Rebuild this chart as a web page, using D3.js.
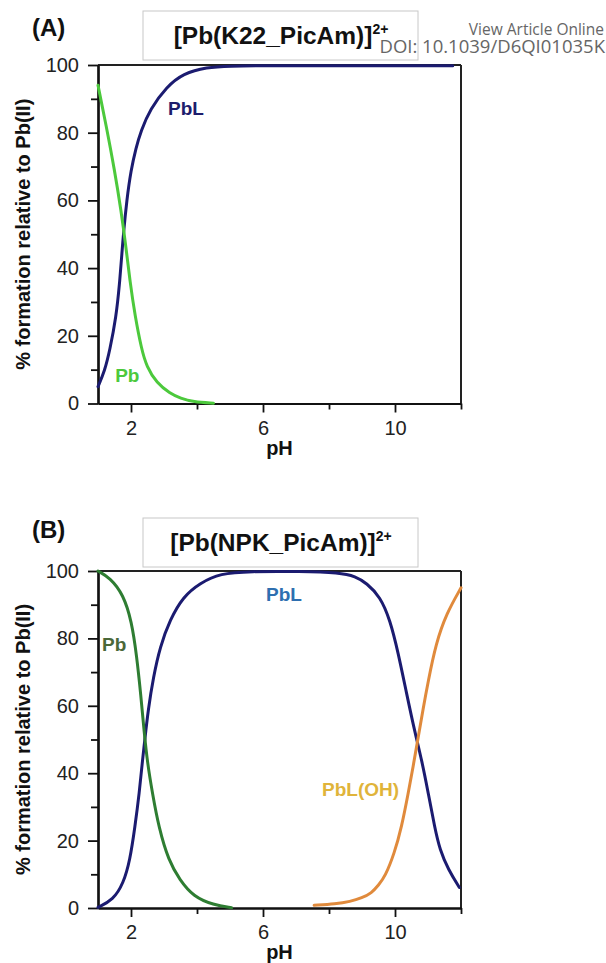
<!DOCTYPE html>
<html><head><meta charset="utf-8">
<script src="https://cdn.jsdelivr.net/npm/d3@7/dist/d3.min.js"></script>
<style>body{margin:0;background:#fff} svg{display:block}</style>
</head><body>
<svg id="c" width="606" height="963"></svg>
<script>
// ---------- data ----------
const xDomain = [1, 12];
const yDomain = [0, 100];
const xMajorTicks = [2, 6, 10];
const xMinorTicks = [4, 8, 12];
const yMajorTicks = [0, 20, 40, 60, 80, 100];
const yMinorTicks = [10, 30, 50, 70, 90];

// Panel A: [Pb(K22_PicAm)]2+
const aPbL_pH  = [1.0, 1.2, 1.36, 1.55, 1.65, 1.73, 1.77, 1.87, 2.0, 2.15, 2.3, 2.58, 3.08, 3.58, 4.29, 5.0, 6.0, 8.0, 10.0, 11.75];
const aPbL_val = [5.0, 9.5, 15.8, 25.6, 35.0, 45.0, 50.0, 60.0, 69.0, 75.5, 80.5, 87.0, 93.6, 97.5, 99.4, 99.7, 99.8, 99.8, 99.8, 99.8];
const aPb_pH   = [1.0, 1.25, 1.5, 1.7, 1.85, 1.97, 2.12, 2.32, 2.47, 2.78, 3.18, 3.5, 3.89, 4.5];
const aPb_val  = [94.0, 82.0, 69.0, 57.0, 46.0, 36.0, 26.0, 16.0, 11.0, 6.0, 3.0, 1.5, 0.5, 0.1];

// Panel B: [Pb(NPK_PicAm)]2+
const bPb_pH   = [1.0, 1.36, 1.77, 2.02, 2.17, 2.3, 2.4, 2.5, 2.65, 2.84, 3.14, 3.48, 3.89, 4.5, 5.05];
const bPb_val  = [100.0, 98.0, 93.0, 85.0, 75.0, 63.0, 52.0, 43.0, 34.0, 24.0, 14.0, 8.3, 3.4, 0.9, 0.1];
const bPbL_pH  = [1.0, 1.46, 1.77, 1.97, 2.12, 2.25, 2.35, 2.42, 2.52, 2.68, 2.88, 3.18, 3.58, 4.09, 4.7, 5.6, 7.12, 8.33, 8.8, 9.14, 9.55, 9.85, 10.1, 10.35, 10.61, 10.81, 11.01, 11.2, 11.36, 11.62, 11.95];
const bPbL_val = [0.2, 2.4, 7.3, 14.2, 24.1, 34.0, 44.0, 50.0, 58.8, 68.6, 77.5, 85.5, 92.4, 96.4, 99.3, 99.9, 99.9, 99.5, 98.4, 96.4, 92.4, 85.5, 75.6, 63.7, 51.8, 43.9, 34.0, 24.0, 17.2, 11.3, 6.1];
const bPbLOH_pH  = [7.55, 8.2, 8.64, 9.0, 9.29, 9.5, 9.7, 9.98, 10.2, 10.4, 10.55, 10.7, 10.85, 11.0, 11.24, 11.56, 12.0];
const bPbLOH_val = [0.8, 1.2, 1.9, 3.0, 4.4, 6.8, 9.3, 16.2, 24.0, 34.0, 42.0, 50.5, 59.0, 67.0, 78.5, 87.4, 95.0];

// ---------- drawing ----------
const svg = d3.select("#c");
const FONT = "'Liberation Sans', Arial, Helvetica, sans-serif";
const zip = (a, b) => a.map((v, i) => [v, b[i]]);

function panel(cfg) {
  const x = d3.scaleLinear().domain(xDomain).range([98, 461]);
  const y = d3.scaleLinear().domain(yDomain).range([cfg.bottom, cfg.top]);
  const g = svg.append("g");

  // panel letter
  g.append("text").attr("x", 32).attr("y", cfg.letterY)
    .attr("font-family", FONT).attr("font-weight", "bold").attr("font-size", 24)
    .attr("fill", "#111").text(cfg.letter);

  // title box
  g.append("rect").attr("x", 143).attr("y", cfg.boxY).attr("width", 275).attr("height", 49)
    .attr("fill", "#fff").attr("stroke", "#c8c8c8").attr("stroke-width", 1);
  const t = g.append("text").attr("x", 281).attr("y", cfg.boxY + 33)
    .attr("text-anchor", "middle").attr("font-family", FONT).attr("font-weight", "bold")
    .attr("font-size", 24.5).attr("fill", "#111");
  t.append("tspan").text(cfg.title);
  t.append("tspan").attr("dy", -10).attr("font-size", 14).text("2+");

  // frame (top and right)
  g.append("line").attr("x1", x(xDomain[0])).attr("x2", x(xDomain[1]))
    .attr("y1", y(100)).attr("y2", y(100)).attr("stroke", "#222").attr("stroke-width", 2);
  g.append("line").attr("x1", x(xDomain[1])).attr("x2", x(xDomain[1]))
    .attr("y1", y(0)).attr("y2", y(100)).attr("stroke", "#222").attr("stroke-width", 2);

  // y axis
  const yA = g.append("g").attr("transform", `translate(${x(xDomain[0])},0)`)
    .call(d3.axisLeft(y).tickValues(yMajorTicks).tickSize(10).tickSizeOuter(0).tickPadding(9));
  const yM = g.append("g").attr("transform", `translate(${x(xDomain[0])},0)`)
    .call(d3.axisLeft(y).tickValues(yMinorTicks).tickSize(7).tickSizeOuter(0).tickFormat(""));
  // x axis
  const xA = g.append("g").attr("transform", `translate(0,${y(0)})`)
    .call(d3.axisBottom(x).tickValues(xMajorTicks).tickSize(9).tickSizeOuter(0).tickPadding(8));
  const xM = g.append("g").attr("transform", `translate(0,${y(0)})`)
    .call(d3.axisBottom(x).tickValues(xMinorTicks).tickSize(6).tickSizeOuter(0).tickFormat(""));
  [yA, yM, xA, xM].forEach(a => {
    a.select(".domain").attr("stroke", "#111").attr("stroke-width", 2.2);
    a.selectAll(".tick line").attr("stroke", "#111").attr("stroke-width", 1.8);
    a.selectAll(".tick text").attr("font-family", FONT).attr("font-size", 20).attr("fill", "#222");
  });

  // axis titles
  g.append("text").attr("transform", `translate(30,${(y(0) + y(100)) / 2}) rotate(-90)`)
    .attr("text-anchor", "middle").attr("font-family", FONT).attr("font-weight", "bold")
    .attr("font-size", 20).attr("fill", "#111").text("% formation relative to Pb(II)");
  g.append("text").attr("x", (x(xDomain[0]) + x(xDomain[1])) / 2).attr("y", y(0) + 51)
    .attr("text-anchor", "middle").attr("font-family", FONT).attr("font-weight", "bold")
    .attr("font-size", 20).attr("fill", "#111").text("pH");

  // series labels (under curves)
  cfg.labels.forEach(l => {
    g.append("text").attr("x", x(l.px)).attr("y", y(l.py))
      .attr("font-family", FONT).attr("font-weight", "bold").attr("font-size", 19)
      .attr("fill", l.color).text(l.text);
  });

  const line = d3.line().x(d => x(d[0])).y(d => y(d[1])).curve(d3.curveBasis);
  cfg.series.forEach(s => {
    g.append("path").attr("d", line(zip(s.pH, s.val))).attr("fill", "none")
      .attr("stroke", s.color).attr("stroke-width", 3).attr("stroke-linecap", "round")
      .attr("stroke-linejoin", "round");
  });
}

panel({
  letter: "(A)", letterY: 36, boxY: 11, title: "[Pb(K22_PicAm)]",
  top: 65, bottom: 403.5,
  labels: [
    {text: "PbL", px: 3.12, py: 85.2, color: "#1d1d6c"},
    {text: "Pb", px: 1.52, py: 6.4, color: "#4cc93c"}
  ],
  series: [
    {pH: aPbL_pH, val: aPbL_val, color: "#1b1b70"},
    {pH: aPb_pH, val: aPb_val, color: "#4cc93c"}
  ]
});

panel({
  letter: "(B)", letterY: 538, boxY: 518, title: "[Pb(NPK_PicAm)]",
  top: 571, bottom: 908,
  labels: [
    {text: "Pb", px: 1.12, py: 76.3, color: "#4a6838"},
    {text: "PbL", px: 6.09, py: 91.1, color: "#2e6fb0"},
    {text: "PbL(OH)", px: 7.79, py: 33.2, color: "#e0b43a"}
  ],
  series: [
    {pH: bPbL_pH, val: bPbL_val, color: "#1b1b70"},
    {pH: bPb_pH, val: bPb_val, color: "#2e7d32"},
    {pH: bPbLOH_pH, val: bPbLOH_val, color: "#e08a3c"}
  ]
});

// watermark text
svg.append("text").attr("x", 604).attr("y", 35).attr("text-anchor", "end")
  .attr("font-family", "'Open Sans', 'Noto Sans', sans-serif").attr("font-size", 15.5)
  .attr("fill", "#666").text("View Article Online");
svg.append("text").attr("x", 605).attr("y", 53).attr("text-anchor", "end")
  .attr("font-family", "'Open Sans', 'Noto Sans', sans-serif").attr("font-size", 18.5)
  .attr("fill", "#666").text("DOI: 10.1039/D6QI01035K");
</script>
</body></html>
